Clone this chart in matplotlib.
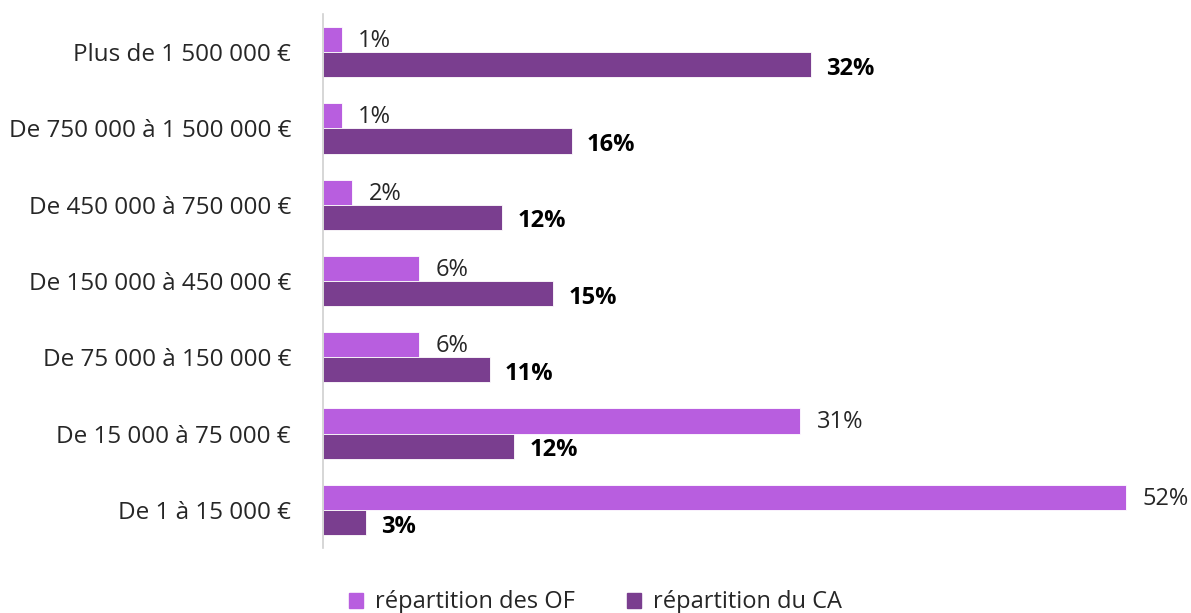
import numpy as np
import matplotlib
matplotlib.use('Agg')
import matplotlib.pyplot as plt
from matplotlib.patches import Patch

plt.rcParams['font.family'] = ['Open Sans', 'DejaVu Sans']

# tranches de CA, du haut vers le bas
categories = ['Plus de 1 500 000 €', 'De 750 000 à 1 500 000 €', 'De 450 000 à 750 000 €',
              'De 150 000 à 450 000 €', 'De 75 000 à 150 000 €', 'De 15 000 à 75 000 €',
              'De 1 à 15 000 €']
part_of = [1.2, 1.2, 1.9, 6.2, 6.2, 30.9, 52.0]   # répartition des OF
part_ca = [31.6, 16.1, 11.6, 14.9, 10.8, 12.4, 2.8]  # répartition du CA
series_names = ['répartition des OF', 'répartition du CA']

c_of = '#B85EDF'
c_ca = '#7A3E8F'

fig = plt.figure(figsize=(11.91, 6.13), dpi=100)
ax = fig.add_axes([323 / 1191, 65 / 613, (1191 - 323) / 1191, (548 - 14) / 613])

y = np.arange(len(categories))
h = 0.33
b1 = ax.barh(y - h / 2, part_of, height=h, color=c_of, edgecolor='white', linewidth=0.6)
b2 = ax.barh(y + h / 2, part_ca, height=h, color=c_ca, edgecolor='white', linewidth=0.6)

for rect, v in zip(b1, part_of):
    ax.annotate('{:.0f}%'.format(v), (rect.get_width(), rect.get_y() + rect.get_height() / 2),
                xytext=(12, -1), textcoords='offset points', va='center', ha='left',
                fontsize=17, color='#262626')
for rect, v in zip(b2, part_ca):
    ax.annotate('{:.0f}%'.format(v), (rect.get_width(), rect.get_y() + rect.get_height() / 2),
                xytext=(11, -3), textcoords='offset points', va='center', ha='left',
                fontsize=17, color='black', fontweight='bold')

ax.set_ylim(len(categories) - 0.5, -0.5)
ax.set_xlim(0, (1191 - 323) / 15.44)
ax.set_yticks(y)
ax.set_yticklabels(categories, fontsize=17.5, color='#262626')
ax.tick_params(axis='y', length=0, pad=23)
ax.set_xticks([])
for s in ['top', 'right', 'bottom']:
    ax.spines[s].set_visible(False)
ax.spines['left'].set_color('#D0D0D0')
ax.spines['left'].set_linewidth(1.2)

handles = [Patch(color=c_of), Patch(color=c_ca)]
fig.legend(handles, series_names, loc='lower center', bbox_to_anchor=(0.5, -0.037), ncol=2,
           frameon=False, fontsize=17, handlelength=0.6, handleheight=0.6,
           handletextpad=0.5, columnspacing=2.2, labelcolor='#262626')

fig.savefig('out.png', dpi=100)
